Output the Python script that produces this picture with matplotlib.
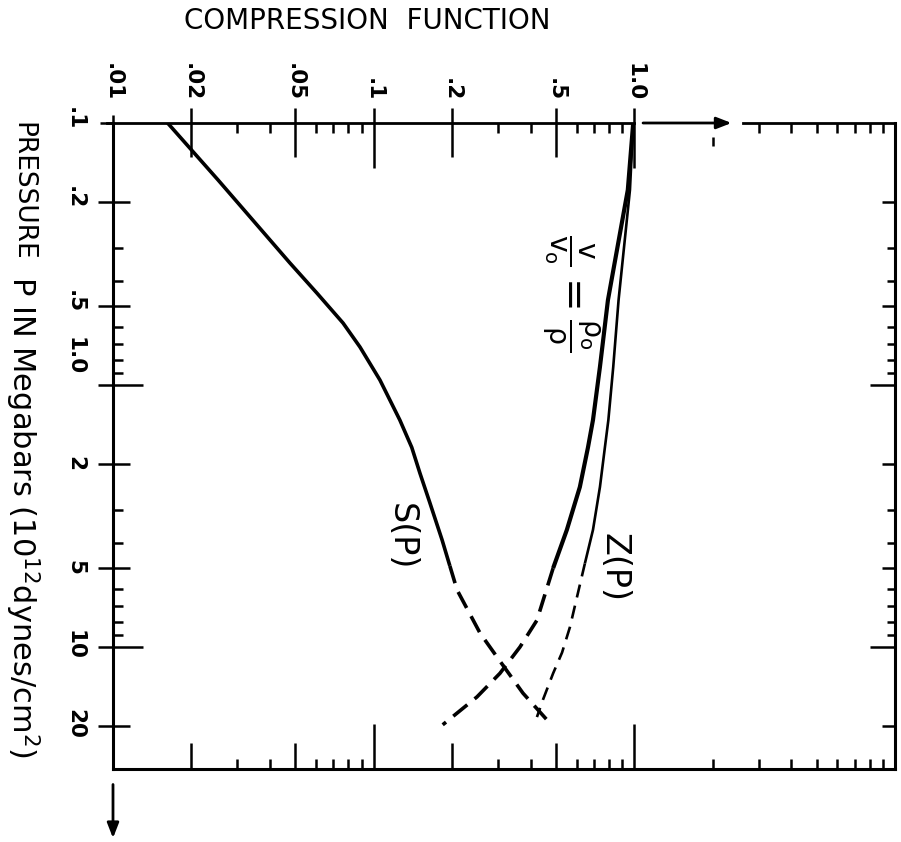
import matplotlib.pyplot as plt
from matplotlib.transforms import offset_copy

plt.rcParams["mathtext.default"] = "regular"

# curve readings: pressure P (megabars) vs compression function value
s_p_solid = [0.1, 0.165, 0.342, 0.446, 0.58, 0.716, 0.957, 1.36, 1.73, 2.17, 2.8, 3.9, 4.9]
s_c_solid = [0.0162, 0.0253, 0.0477, 0.0606, 0.0763, 0.0886, 0.1057, 0.126, 0.140, 0.1505, 0.164, 0.183, 0.196]
s_p_dash = [4.9, 6.06, 8.85, 10.9, 15.0, 19.5]
s_c_dash = [0.196, 0.209, 0.256, 0.297, 0.374, 0.474]

v_p_solid = [0.1, 0.18, 0.474, 0.853, 1.36, 1.73, 2.45, 3.57, 5.0]
v_c_solid = [0.99, 0.944, 0.792, 0.738, 0.694, 0.664, 0.618, 0.551, 0.488]
v_p_dash = [5.0, 7.9, 10.0, 12.6, 15.5, 19.8]
v_c_dash = [0.488, 0.423, 0.364, 0.305, 0.249, 0.184]

z_p_solid = [0.1, 0.18, 0.474, 0.853, 1.36, 1.73, 2.45, 3.57, 4.8]
z_c_solid = [0.99, 0.962, 0.87, 0.83, 0.795, 0.771, 0.738, 0.694, 0.646]
z_p_dash = [4.8, 8.4, 10.5, 12.6, 15.9, 18.5]
z_c_dash = [0.646, 0.566, 0.528, 0.488, 0.446, 0.423]

x_labels = [".01", ".02", ".05", ".1", ".2", ".5", "1.0"]
x_label_vals = [0.01, 0.02, 0.05, 0.1, 0.2, 0.5, 1.0]
y_labels = [".1", ".2", ".5", "1.0", "2", "5", "10", "20"]
y_label_vals = [0.1, 0.2, 0.5, 1.0, 2, 5, 10, 20]

W, H = 782, 646
fig = plt.figure(figsize=(9.01, 8.42), dpi=100)
ax = fig.add_axes([113 / 901, 1 - 769 / 842, W / 901, H / 842])
ax.set_xscale("log")
ax.set_yscale("log")
ax.set_xlim(0.01, 10)
ax.set_ylim(29.2, 0.1)
ax.xaxis.set_major_locator(plt.NullLocator())
ax.xaxis.set_minor_locator(plt.NullLocator())
ax.yaxis.set_major_locator(plt.NullLocator())
ax.yaxis.set_minor_locator(plt.NullLocator())
for side in ["left", "right", "bottom"]:
    ax.spines[side].set_linewidth(2.2)
ax.spines["top"].set_visible(False)

xt = ax.get_xaxis_transform()
yt = ax.get_yaxis_transform()
lw_t = 1.8


def xtick(x, top, out, inn, gap=0):
    if top:
        ys = [1 + out / H, 1 - (inn + gap) / H] if gap == 0 else [1 - gap / H, 1 - (inn + gap) / H]
    else:
        ys = [-out / H, inn / H]
    ax.plot([x, x], ys, color="black", lw=lw_t, transform=xt, clip_on=False, solid_capstyle="butt")


def ytick(y, right, out, inn):
    if right:
        xs = [1 + out / W, 1 - inn / W]
    else:
        xs = [-out / W, inn / W]
    ax.plot(xs, [y, y], color="black", lw=lw_t, transform=yt, clip_on=False, solid_capstyle="butt")


# top axis: line broken by arrow beyond 1.0
ax.plot([0.0095, 1.0], [1, 1], color="black", lw=2.0, transform=xt, clip_on=False)
ax.plot([2.62, 10], [1, 1], color="black", lw=2.0, transform=xt, clip_on=False)
ax.annotate("", xy=(2.36, 1), xytext=(1.08, 1), xycoords=xt, textcoords=xt,
            arrowprops=dict(arrowstyle="-|>,head_length=0.9,head_width=0.35", lw=2.0, color="black",
                            shrinkA=0, shrinkB=0), annotation_clip=False)
ax.annotate("", xy=(0.01, -0.107), xytext=(0.01, -0.024), xycoords=xt, textcoords=xt,
            arrowprops=dict(arrowstyle="-|>,head_length=0.9,head_width=0.35", lw=2.0, color="black",
                            shrinkA=0, shrinkB=0), annotation_clip=False)

decades = [0.01, 0.1, 1.0]
for d in decades:
    for k in range(2, 10):
        v = d * k
        if k in (2, 5) and d < 1:
            xtick(v, True, 15, 34)
            xtick(v, False, 0, 26)
        elif k == 2:
            xtick(v, True, 0, 9, gap=14)
            xtick(v, False, 0, 10)
        else:
            xtick(v, True, 0, 10)
            xtick(v, False, 0, 10)
xtick(0.01, True, 8, 0)
for v in [0.1, 1.0]:
    xtick(v, True, 15, 45)
    xtick(v, False, 0, 45)

for d in [0.1, 1.0, 10.0]:
    for k in range(2, 10):
        v = d * k
        if v > 29:
            break
        if k in (2, 5):
            ytick(v, False, 15, 17)
            ytick(v, True, 0, 13)
        elif d < 10:
            ytick(v, False, 0, 10)
            ytick(v, True, 0, 8)
ytick(0.1, False, 13, 0)
for v in [1.0, 10.0]:
    ytick(v, False, 15, 30)
    ytick(v, True, 0, 25)

# tick labels
for lab, v in zip(x_labels, x_label_vals):
    ax.text(v, 1 + 22 / H, lab, transform=xt, rotation=-90, rotation_mode="anchor",
            ha="right", va="center", fontsize=15.5, fontweight="bold")
for lab, v in zip(y_labels, y_label_vals):
    if lab == "1.0":
        dy = 10
    elif len(lab) == 2 and not lab.startswith("."):
        dy = -13
    else:
        dy = -7
    tr = offset_copy(yt, fig=fig, x=0, y=dy, units="dots")
    ax.text(-38 / W, v, lab, transform=tr, rotation=-90, rotation_mode="anchor",
            ha="right", va="center", fontsize=15.5, fontweight="bold")

# curves
ax.plot(s_c_solid, s_p_solid, color="black", lw=2.6, solid_capstyle="butt")
ax.plot(s_c_dash, s_p_dash, color="black", lw=2.6, dashes=(5, 2.6))
ax.plot(v_c_solid, v_p_solid, color="black", lw=3.0, solid_capstyle="butt")
ax.plot(v_c_dash, v_p_dash, color="black", lw=2.6, dashes=(5, 2.6))
ax.plot(z_c_solid, z_p_solid, color="black", lw=1.9, solid_capstyle="butt")
ax.plot(z_c_dash, z_p_dash, color="black", lw=1.9, dashes=(5, 3.2))

ax.text(0.128, 3.8, "S(P)", rotation=-90, ha="center", va="center", fontsize=24)
ax.text(0.835, 4.99, "Z(P)", rotation=-90, ha="center", va="center", fontsize=24)
ax.text(0.576, 0.442, r"$\frac{v}{v_o}=\frac{\rho_o}{\rho}$", rotation=-90,
        ha="center", va="center", fontsize=29)

fig.text(367 / 901, 1 - 21 / 842, "COMPRESSION  FUNCTION", ha="center", va="center", fontsize=20)
fig.text(22 / 901, 1 - 122 / 842, "PRESSURE", rotation=-90, rotation_mode="anchor",
         ha="left", va="center", fontsize=19)
fig.text(22 / 901, 1 - 276 / 842, r"P IN Megabars (10$^{12}$dynes/cm$^{2}$)",
         rotation=-90, rotation_mode="anchor", ha="left", va="center", fontsize=22)

fig.savefig("out.png", dpi=100)
